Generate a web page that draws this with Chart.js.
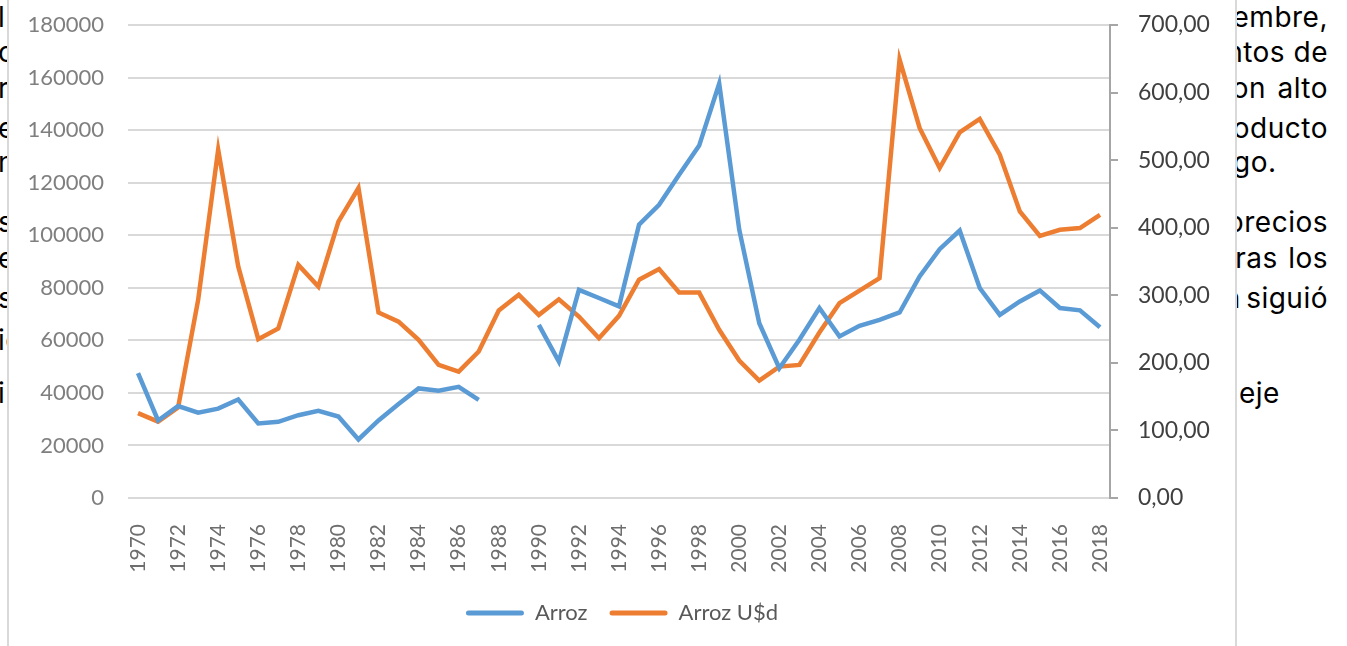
<!DOCTYPE html>
<html>
<head>
<meta charset="utf-8">
<script src="https://cdn.jsdelivr.net/npm/chart.js@4"></script>
<style>
  html, body { margin: 0; padding: 0; background: #fff; }
  #page { position: relative; width: 1347px; height: 646px; overflow: hidden; font-family: 'Inter', 'Noto Sans', sans-serif; }
  .txt { position: absolute; font-size: 28px; line-height: 30px; color: #000; white-space: nowrap; letter-spacing: 0.5px; }
  .r { right: 19px; text-align: right; }
  .l { left: -2px; }
  #box { position: absolute; left: 7px; top: -4px; width: 1226px; height: 660px; background: #fff;
         border-left: 2px solid #d9d9d9; border-right: 2px solid #d9d9d9; }
  #wrap { position: absolute; left: 0; top: 4px; width: 1226px; height: 646px; }
</style>
</head>
<body>
<div id="page">
  <!-- document text behind the chart -->
  <div class="txt l" style="top:2px">l</div>
  <div class="txt l" style="top:37px">c</div>
  <div class="txt l" style="top:73px">re</div>
  <div class="txt l" style="top:113px">e</div>
  <div class="txt l" style="top:147px">n</div>
  <div class="txt l" style="top:207px">s</div>
  <div class="txt l" style="top:243px">e</div>
  <div class="txt l" style="top:283px">s</div>
  <div class="txt l" style="top:325px">ic</div>
  <div class="txt l" style="top:378px">i</div>

  <div class="txt r" style="top:2px">diciembre,</div>
  <div class="txt r" style="top:37px">puntos de</div>
  <div class="txt r" style="top:73px;word-spacing:3px">con alto</div>
  <div class="txt r" style="top:113px">producto</div>
  <div class="txt" style="left:1199px;top:147px">largo.</div>
  <div class="txt r" style="top:207px">precios</div>
  <div class="txt r" style="top:243px;word-spacing:2px">tras los</div>
  <div class="txt r" style="top:283px;word-spacing:-3px">también siguió</div>
  <div class="txt" style="left:1239px;top:378px">eje</div>

  <div id="box">
    <div id="wrap"><canvas id="myChart"></canvas></div>
  </div>
</div>

<script>
// years on the category axis
var anios = []
for (var y = 1970; y <= 2018; y++) anios.push(String(y))

// Arroz (left axis)
var arroz = [
  47500, 29500, 35000, 32500, 34000, 37500, 28400, 29000, 31500, 33200,
  31000, 22300, 29500, 35800, 41700, 40800, 42300, 37300, null, null,
  65900, 51900, 79200, 76100, 72900, 104000, 111600, 123000, 134100, 157700,
  102100, 66500, 49400, 60200, 72300, 61500, 65500, 67800, 70600, 84300,
  94700, 101800, 79900, 69700, 74800, 79000, 72300, 71400, 65000
]

// Arroz U$d (right axis)
var arrozUsd = [
  125.5, 113, 134, 293, 515.6, 342.7, 235, 251, 345, 313,
  409, 458.8, 274.5, 261, 234, 197, 187, 216.8, 277.5, 300.7,
  271, 294, 268.6, 236.5, 269.6, 323, 338.8, 304, 304, 249,
  203.4, 173.8, 194.5, 197, 245, 288.4, 307, 325.4, 648.9, 547.6,
  488.4, 541.2, 561, 508, 424, 388, 397, 399.5, 419
]

var azul = '#5B9BD5'
var naranja = '#ED7D31'

Chart.defaults.font.family = 'Lato'
Chart.defaults.animation = false

var ctx = document.getElementById('myChart').getContext('2d')
var chart = new Chart(ctx, {
  type: 'line',
  data: {
    labels: anios,
    datasets: [
      {
        label: 'Arroz',
        data: arroz,
        borderColor: azul,
        backgroundColor: azul,
        borderWidth: 4.5,
        pointRadius: 0,
        tension: 0,
        spanGaps: false,
        yAxisID: 'y'
      },
      {
        label: 'Arroz U$d',
        data: arrozUsd,
        borderColor: naranja,
        backgroundColor: naranja,
        borderWidth: 4.5,
        pointRadius: 0,
        tension: 0,
        yAxisID: 'y1'
      }
    ]
  },
  options: {
    responsive: true,
    maintainAspectRatio: false,
    layout: { padding: { top: 25, left: 0, right: 0, bottom: 12 } },
    plugins: {
      tooltip: { enabled: false },
      legend: {
        position: 'bottom',
        labels: {
          color: '#595959',
          font: { size: 22 },
          boxWidth: 58,
          boxHeight: 5,
          padding: 22,
          useBorderRadius: true,
          generateLabels: function(chart) {
            var items = Chart.defaults.plugins.legend.labels.generateLabels(chart)
            items.forEach(function(it) {
              it.lineWidth = 0
              it.borderRadius = 2.5
            })
            return items
          }
        }
      }
    },
    scales: {
      x: {
        offset: true,
        grid: { display: false },
        border: { display: false },
        ticks: {
          autoSkip: false,
          minRotation: 90,
          maxRotation: 90,
          padding: 18,
          color: '#6e6e6e',
          font: { size: 21 },
          callback: function(v, i) { return i % 2 === 0 ? this.getLabelForValue(v) : '' }
        },
        afterFit: function(scale) { scale.height = 82 }
      },
      y: {
        position: 'left',
        min: 0,
        max: 180000,
        border: { display: false },
        grid: { color: '#d9d9d9', lineWidth: 2, drawTicks: false },
        ticks: {
          stepSize: 20000,
          padding: 24,
          color: '#7f7f7f',
          font: { size: 22 },
          callback: function(v) { return String(v) }
        },
        afterFit: function(scale) {
          scale.width = 119
          scale.paddingTop = 0
          scale.paddingBottom = 0
        }
      },
      y1: {
        position: 'right',
        min: 0,
        max: 700,
        border: { display: true, color: '#a6a6a6', width: 2 },
        grid: { drawOnChartArea: false, tickLength: 8, color: '#a6a6a6', lineWidth: 2 },
        ticks: {
          stepSize: 100,
          padding: 20,
          color: '#404040',
          font: { size: 23 },
          callback: function(v) { return v.toFixed(2).replace('.', ',') }
        },
        afterFit: function(scale) {
          scale.width = 125
          scale.paddingTop = 0
          scale.paddingBottom = 0
        }
      }
    }
  }
})
</script>
</body>
</html>
